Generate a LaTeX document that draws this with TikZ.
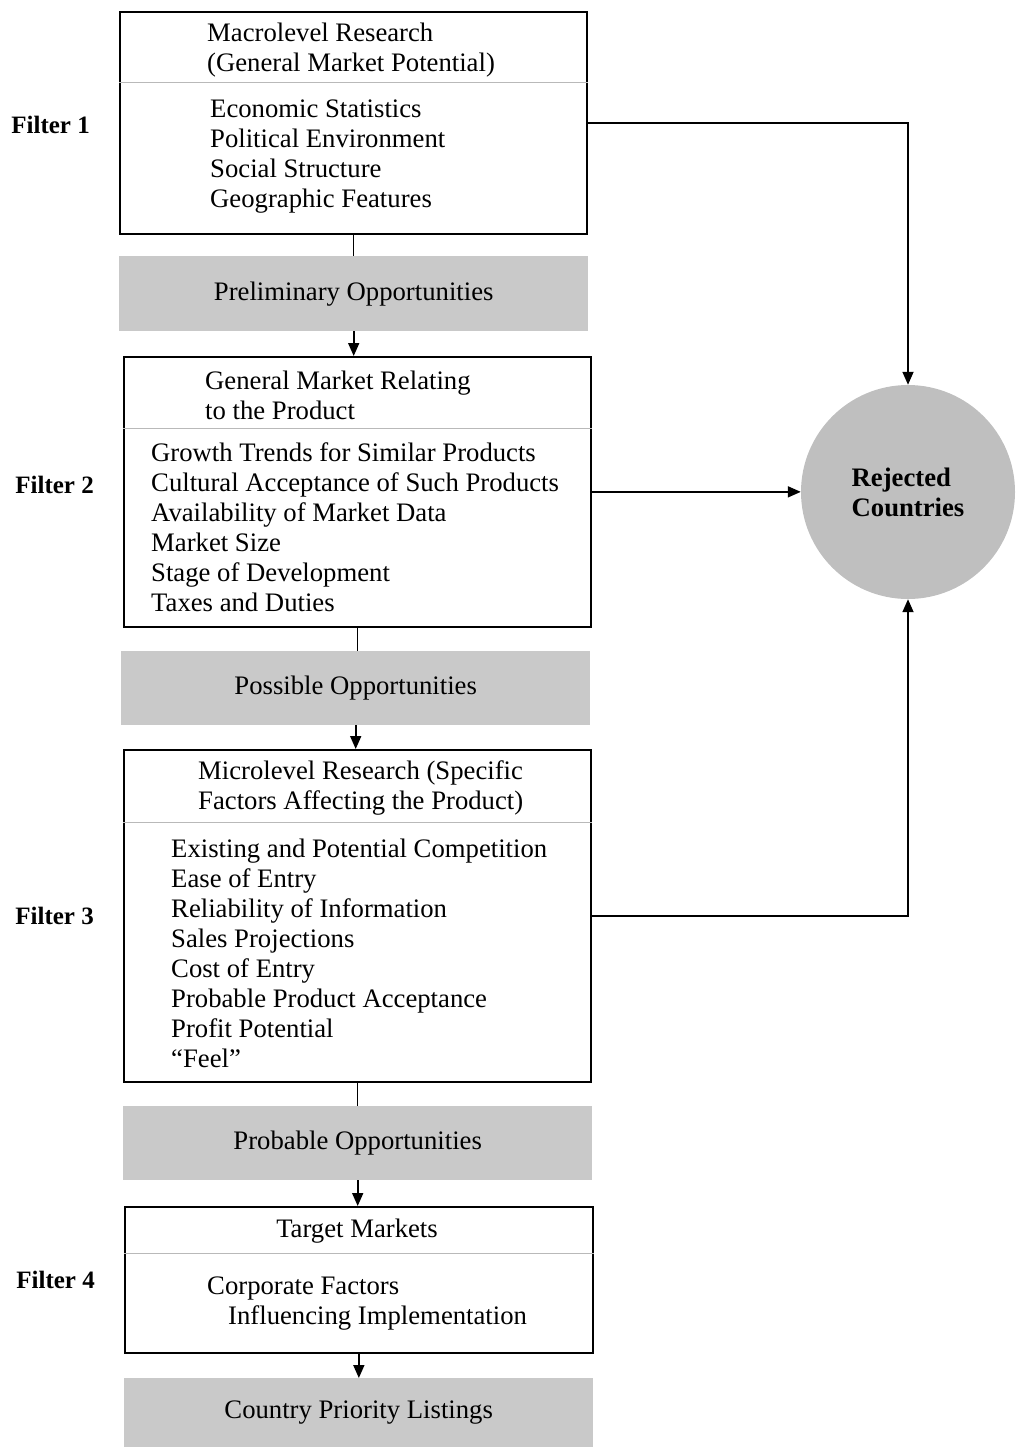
\documentclass[tikz,border=0pt]{standalone}
\usepackage{fontspec}
\setmainfont{Liberation Serif}
\usetikzlibrary{positioning,arrows.meta}

\begin{document}
\begin{tikzpicture}[x=1pt,y=-1pt,
		box/.style={draw,line width=1.7pt,anchor=north west,inner sep=0pt,minimum width=467pt},
		band/.style={fill=gray!42,anchor=north west,inner sep=0pt,minimum width=469pt,font=\fontsize{26.7}{30}\selectfont},
		txt/.style={anchor=base west,align=left,inner sep=0pt,font=\fontsize{26.7}{30}\selectfont},
		filter/.style={inner sep=0pt,node distance=29pt,font=\fontsize{25}{30}\selectfont\bfseries},
		rej/.style={circle,fill=gray!50,minimum size=214pt,inner sep=0pt,align=left,font=\fontsize{26.7}{30}\selectfont\bfseries},
		sep/.style={draw=gray!55,line width=0.8pt},
		flow/.style={line width=1.7pt,-{Triangle[length=13pt,width=11pt]}}]
		\useasboundingbox (0,0) rectangle (1016,1447);

		% filter boxes and gray bands
		\node[box,minimum height=222pt]	(box1)	at (119,11)		{};
		\node[band,minimum height=75pt]	(band1)	at (119,256)	{Preliminary Opportunities};
		\node[box,minimum height=270pt]	(box2)	at (123,356)	{};
		\node[band,minimum height=74pt]	(band2)	at (121,651)	{Possible Opportunities};
		\node[box,minimum height=332pt]	(box3)	at (123,749)	{};
		\node[band,minimum height=74pt]	(band3)	at (123,1106)	{Probable Opportunities};
		\node[box,minimum height=146pt,minimum width=468pt]	(box4)	at (124,1206)	{};
		\node[band,minimum height=69pt]	(band4)	at (124,1378)	{Country Priority Listings};

		\draw[sep] (box1.west |- 0,82) -- (box1.east |- 0,82);
		\draw[sep] (box2.west |- 0,428) -- (box2.east |- 0,428);
		\draw[sep] (box3.west |- 0,822) -- (box3.east |- 0,822);
		\draw[sep] (box4.west |- 0,1253) -- (box4.east |- 0,1253);

		% box texts (placed at the baseline of their last line)
		\node[txt]	(title1)	at (207,71.7)	{Macrolevel Research\\(General Market Potential)};
		\node[txt]	(list1)		at (210,207.5)	{Economic Statistics\\Political Environment\\Social Structure\\Geographic Features};
		\node[txt]	(title2)	at (205,419.5)	{General Market Relating\\to the Product};
		\node[txt]	(list2)		at (151,611)	{Growth Trends for Similar Products\\Cultural Acceptance of Such Products\\Availability of Market Data\\Market Size\\Stage of Development\\Taxes and Duties};
		\node[txt]	(title3)	at (198,809.5)	{Microlevel Research (Specific\\Factors Affecting the Product)};
		\node[txt]	(list3)		at (171,1067)	{Existing and Potential Competition\\Ease of Entry\\Reliability of Information\\Sales Projections\\Cost of Entry\\Probable Product Acceptance\\Profit Potential\\“Feel”};
		\node[txt,anchor=base]	(title4)	at (357,1237.5)	{Target Markets};
		\node[txt]	(list4)		at (207,1324.5)	{Corporate Factors\\\hspace{21pt}Influencing Implementation};

		% filter labels
		\node[filter,left=of box1,yshift=-2pt]	(filter1)	{Filter 1};
		\node[filter,left=of box2,yshift=7pt]	(filter2)	{Filter 2};
		\node[filter,left=of box3]				(filter3)	{Filter 3};
		\node[filter,left=of box4]				(filter4)	{Filter 4};

		\node[rej]	(rejected)	at (908,492)	{Rejected\\Countries};

		\draw[line width=1.7pt] (box1.south) -- (box1.south |- band1.north);
		\draw[flow] (band1.south) -- (band1.south |- box2.north);
		\draw[line width=1.7pt] (box2.south) -- (box2.south |- band2.north);
		\draw[flow] (band2.south) -- (band2.south |- box3.north);
		\draw[line width=1.7pt] (box3.south) -- (box3.south |- band3.north);
		\draw[flow] (band3.south) -- (band3.south |- box4.north);
		\draw[flow] (box4.south) -- (box4.south |- band4.north);

		\draw[flow] (box1.east) -| (rejected.north);
		\draw[flow] (box2.east) -- (box2.east -| rejected.west);
		\draw[flow] (box3.east) -| (rejected.south);
	\end{tikzpicture}
\end{document}
